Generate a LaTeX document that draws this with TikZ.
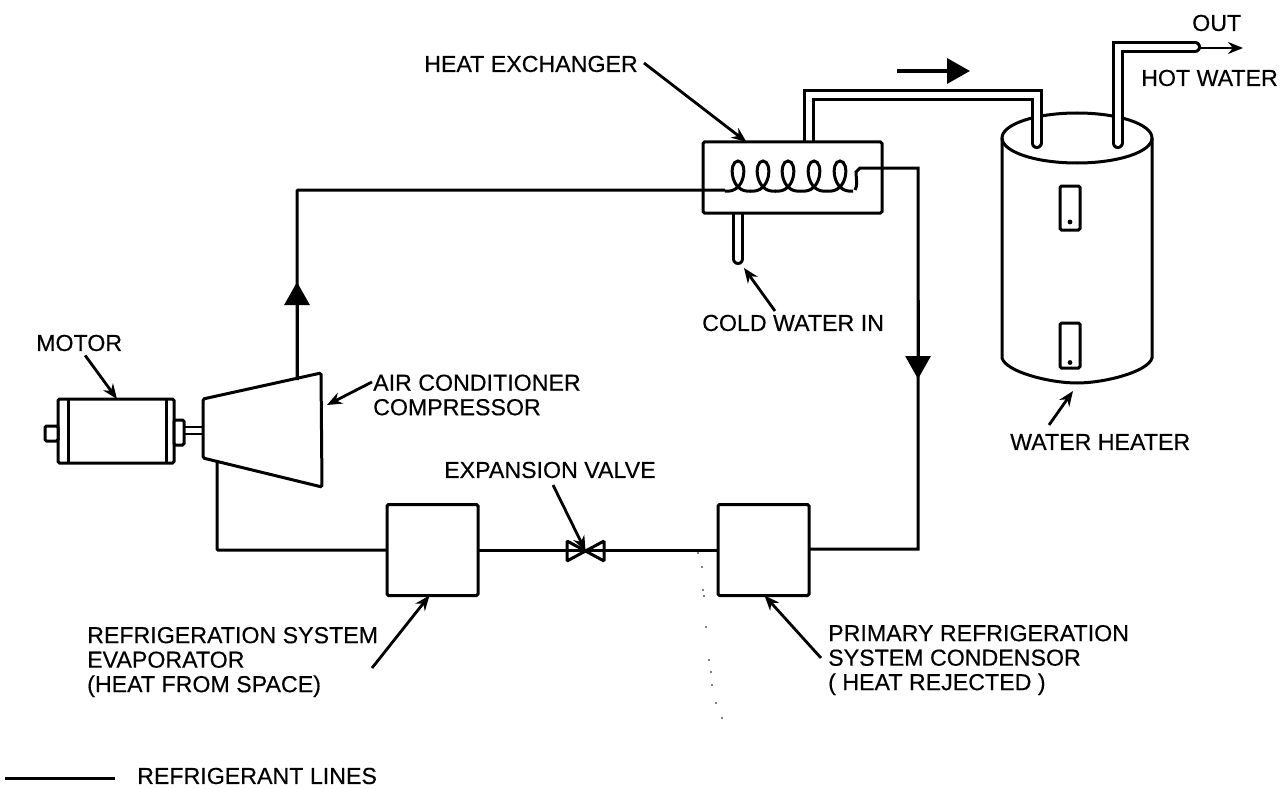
\documentclass[tikz,border=0pt]{standalone}
\usepackage{fontspec}
\setmainfont[FakeBold=0.35]{Liberation Sans}
\usetikzlibrary{arrows.meta,calc,positioning}
\tikzset{
    unit/.style={draw, line width=3pt, rounded corners=1.5pt, inner sep=0pt, outer sep=0pt},
    refline/.style={line width=3pt, rounded corners=1pt},
    pipe/.style={double, double distance=6pt, line width=3pt, line cap=round},
    bighead/.style={line width=3pt, -{Triangle[width=25pt,length=23pt]}},
    callout/.style={->, line width=2.8pt},
    lbl/.style={anchor=west, align=left, inner sep=0pt, font=\fontsize{23.2}{24.5}\selectfont}
}
\begin{document}
\begin{tikzpicture}[x=1pt, y=-1pt, >={Stealth[length=15pt,width=12pt]}]
    \useasboundingbox (0,0) rectangle (1282,789);
    % Nodes
    \node[minimum width=179pt, minimum height=71pt, inner sep=0pt, outer sep=0pt] (hx) at (792.5,177.5) {};
    \node[unit, minimum width=91pt, minimum height=91pt] (evap) at (432.5,550) {};
    \node[unit, minimum width=91pt, minimum height=91pt] (cond) at (763.5,550) {};
    \node[minimum width=37pt, minimum height=20pt, inner sep=0pt, outer sep=0pt] (valve) at (585.5,551) {};
    \node[unit, minimum width=116pt, minimum height=64pt] (motor) at (116,431) {};
    \node[unit, fill=white, minimum width=10pt, minimum height=25pt] (hub) at (179,432.5) {};
    \node[unit, fill=white, minimum width=13pt, minimum height=15pt] (stub) at (51.5,433.5) {};
    \coordinate (comptl) at (203,399);
    \coordinate (comptr) at (321,373);
    \coordinate (compbr) at (322,487);
    \coordinate (compbl) at (203,458);
    \coordinate (compout) at (297,380);
    \coordinate (compin) at (217,462);
    \coordinate (coilin) at (725,190);
    \coordinate (coilout) at (855,190);
    \coordinate (condturn) at (918,549);

    % Compressor and motor
    \draw[line width=3pt, rounded corners=1.5pt] (comptl) -- (comptr) -- (compbr) -- (compbl) -- cycle;
    \draw[line width=3pt] ([xshift=10pt]motor.north west) -- ([xshift=10pt]motor.south west);
    \draw[line width=3pt] ([xshift=-8pt]motor.north east) -- ([xshift=-8pt]motor.south east);
    \draw[line width=2pt] (hub.east |- 0,427) -- (comptl |- 0,427);
    \draw[line width=2pt] (hub.east |- 0,434) -- (comptl |- 0,434);

    % Valve
    \draw[line width=3pt, rounded corners=1pt, fill=white] (valve.north west) -- (valve.south east) -- (valve.north east) -- (valve.south west) -- cycle;

    % Water heater
    \draw[line width=3pt] (1002,138) -- (1002,358) .. controls (1006,372) and (1050,383) .. (1077,383) .. controls (1104,383) and (1148,372) .. (1152,358) -- (1152,138);
    \draw[line width=3pt] (1077,138) ellipse (75pt and 25pt);
    \node[unit, minimum width=20pt, minimum height=44pt] (gaugetop) at (1070,208) {};
    \node[unit, minimum width=20pt, minimum height=45pt] (gaugelow) at (1070,345.5) {};
    \fill ([yshift=-14pt]gaugetop.center) circle (2.4pt);
    \fill ([yshift=-17pt]gaugelow.center) circle (2.4pt);

    % Water pipes
    \draw[pipe] (hx.center -| 808.5,0) |- (1036.5,95) -- (1036.5,143);
    \draw[pipe] (1117.5,143) |- (1195,47);
    \draw[pipe] (hx.center -| 738,0) -- (738,259);
    \draw[unit, fill=white] (hx.north west) rectangle (hx.south east);

    % Refrigerant lines
    \draw[refline] (compout) -- (compout |- coilin) -- (coilin);
    \foreach \cx in {738,763,788,814,840} {
        \draw[line width=3pt] (\cx-13,191) .. controls (\cx+8,194) and (\cx+10,161) .. (\cx,161) .. controls (\cx-10,161) and (\cx-8,194) .. (\cx+13,191);
    }
    \draw[line width=3pt] (coilout) .. controls (858,186) and (856,178) .. (856,172) -- (860,168) -| (condturn) -- (cond.east |- condturn);
    \draw[refline] (compin) |- (evap.west);
    \draw[refline] (evap.east) -- (cond.west);

    % Flow arrows
    \draw[bighead] (compout) -- (297,282);
    \draw[bighead] (918,300) -- (918,379);
    \draw[bighead, line width=3.5pt] (897,71) -- (970,71);
    \draw[callout] (1198,48) -- (1243,48);

    % Labels
    \node[lbl] (lblhx) at (424,64) {HEAT EXCHANGER};
    \node[lbl] (lblout) at (1192,23) {OUT};
    \node[lbl] (lblhot) at (1141,78) {HOT WATER};
    \node[lbl] (lblcold) at (702,323) {COLD WATER IN};
    \node[lbl] (lblmotor) at (36,343) {MOTOR};
    \node[lbl] (lblcomp) at (373,395) {AIR CONDITIONER\\COMPRESSOR};
    \node[lbl] (lblvalve) at (444,470) {EXPANSION VALVE};
    \node[lbl] (lblheater) at (1010,442) {WATER HEATER};
    \node[lbl] (lblevap) at (87,662) {REFRIGERATION SYSTEM\\EVAPORATOR\\(HEAT FROM SPACE)};
    \node[lbl] (lblcond) at (828,660) {PRIMARY REFRIGERATION\\SYSTEM CONDENSOR\\( HEAT REJECTED )};
    \coordinate (legendstart) at (5,778);
    \node[lbl] (lbllegend) at (137,776) {REFRIGERANT LINES};

    % Arrows
    \draw[callout] (lblhx.east) ++(6,-1) -- ([xshift=-46pt]hx.north);
    \draw[callout] (775,311) -- (744,268);
    \draw[callout] (lblmotor.south) ++(6,4) -- ([xshift=1pt]motor.north);
    \draw[callout] (372,382) -- (327,405);
    \draw[callout] (553,485) -- (valve.center);
    \draw[callout] (1049,425) -- (1073,391);
    \draw[callout] (372,668) -- ([xshift=-3pt]evap.south);
    \draw[callout] (821,658) -- ([xshift=1pt]cond.south);
    \draw[refline] (legendstart) -- (115,778);

    % Scan specks
    \foreach \px/\py in {698/553,702/567,703/590,704/596,706/627,709/660,711/672,712/685,716/703,722/718} {
        \fill (\px,\py) circle (0.9pt);
    }
\end{tikzpicture}
\end{document}
